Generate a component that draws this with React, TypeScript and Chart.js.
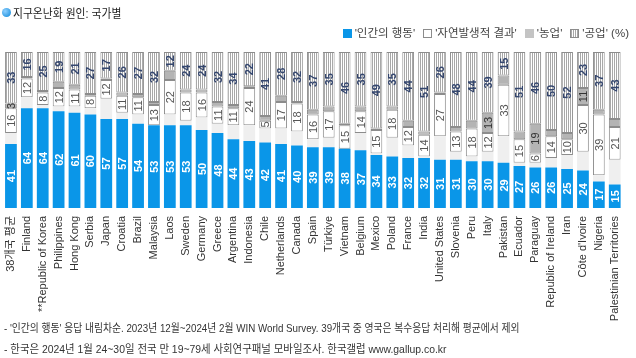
import React, { useEffect, useRef } from 'react';
import { Chart, registerables } from 'chart.js';
Chart.register(...registerables);

const categories = ['38개국 평균', 'Finland', '**Republic of Korea', 'Philippines', 'Hong Kong', 'Serbia', 'Japan', 'Croatia', 'Brazil', 'Malaysia', 'Laos', 'Sweden', 'Germany', 'Greece', 'Argentina', 'Indonesia', 'Chile', 'Netherlands', 'Canada', 'Spain', 'Türkiye', 'Vietnam', 'Belgium', 'Mexico', 'Poland', 'France', 'India', 'United States', 'Slovenia', 'Peru', 'Italy', 'Pakistan', 'Ecuador', 'Paraguay', 'Republic of Ireland', 'Iran', "Côte d'Ivoire", 'Nigeria', 'Palestinian Territories'];
const human = [41, 64, 64, 62, 61, 60, 57, 57, 54, 53, 53, 53, 50, 48, 44, 43, 42, 41, 40, 39, 39, 38, 37, 34, 33, 32, 32, 31, 31, 30, 30, 29, 27, 26, 26, 25, 24, 17, 15];
const natural = [16, 12, 8, 12, 11, 8, 12, 11, 11, 13, 22, 18, 16, 11, 11, 24, 5, 17, 18, 16, 17, 15, 14, 15, 18, 12, 14, 27, 13, 18, 12, 33, 15, 6, 14, 10, 30, 39, 21];
const agriculture = [3, 1, 1, 4, 3, 1, 1, 2, 2, 2, 6, 2, 2, 3, 2, 1, 3, 4, 1, 3, 3, 1, 3, 1, 2, 4, 2, 1, 3, 5, 13, 6, 5, 19, 4, 4, 11, 3, 5];
const industry = [33, 16, 25, 19, 21, 27, 17, 26, 27, 32, 12, 24, 24, 32, 34, 22, 41, 28, 32, 37, 35, 46, 35, 49, 35, 44, 51, 26, 48, 44, 39, 15, 51, 46, 50, 52, 23, 37, 43];
const seriesNames = ["'인간의 행동'", "'자연발생적 결과'", "'농업'", "'공업'"];
const titleText = '지구온난화 원인: 국가별';
const footnotes = [
  "- '인간의 행동' 응답 내림차순. 2023년 12월~2024년 2월 WIN World Survey. 39개국 중 영국은 복수응답 처리해 평균에서 제외",
  '- 한국은 2024년 1월 24~30일 전국 만 19~79세 사회연구패널 모바일조사. 한국갤럽 www.gallup.co.kr',
];

const FONT = "'Liberation Sans', 'Noto Sans CJK KR', sans-serif";
const BLUE = '#0a96e8';
const BORDER = '#8c8c8c';

function makeHatch(): CanvasPattern | string {
  const c = document.createElement('canvas');
  c.width = 2;
  c.height = 2;
  const g = c.getContext('2d');
  if (!g) return '#ccc';
  g.fillStyle = '#ffffff';
  g.fillRect(0, 0, 2, 2);
  g.fillStyle = '#a8a8a8';
  g.fillRect(0, 0, 1, 2);
  return g.createPattern(c, 'repeat') || '#ccc';
}

const segLabels = {
  id: 'segLabels',
  afterDatasetsDraw(chart: any) {
    const ctx = chart.ctx;
    chart.data.datasets.forEach((ds: any, di: number) => {
      const cfg = ds.labelStyle;
      if (!cfg) return;
      const meta = chart.getDatasetMeta(di);
      meta.data.forEach((el: any, i: number) => {
        const v = ds.data[i];
        if (!cfg.show(v, i)) return;
        const p = el.getProps(['x', 'y', 'base'], true);
        ctx.save();
        ctx.translate(p.x, (p.y + p.base) / 2);
        ctx.rotate(-Math.PI / 2);
        ctx.font = cfg.font;
        ctx.fillStyle = cfg.color;
        ctx.textAlign = 'center';
        ctx.textBaseline = 'middle';
        ctx.fillText(String(v), 0, 1);
        ctx.restore();
      });
    });
  },
};

export default function App() {
  const ref = useRef<HTMLCanvasElement | null>(null);
  useEffect(() => {
    if (!ref.current) return;
    const hatch = makeHatch();
    const gap = categories.map((_, i) => Math.max(0, 100 - human[i] - natural[i] - agriculture[i] - industry[i]));
    const common = { barPercentage: 0.74, categoryPercentage: 1 };
    const chart = new Chart(ref.current, {
      type: 'bar',
      data: {
        labels: categories,
        datasets: [
          {
            label: seriesNames[0], data: human, backgroundColor: BLUE, borderWidth: 0, ...common,
            labelStyle: { font: `bold 11px ${FONT}`, color: '#ffffff', show: () => true },
          } as any,
          { label: 'gap', data: gap, backgroundColor: '#efefef', borderWidth: 0, ...common },
          {
            label: seriesNames[1], data: natural, backgroundColor: '#ffffff', borderColor: BORDER, borderWidth: 1, borderSkipped: false, ...common,
            labelStyle: { font: `11px ${FONT}`, color: '#555555', show: () => true },
          } as any,
          {
            label: seriesNames[2], data: agriculture, backgroundColor: '#b4b4b4', borderColor: BORDER, borderWidth: 1, borderSkipped: false, ...common,
            labelStyle: { font: `11px ${FONT}`, color: '#333333', show: (v: number, i: number) => v >= 10 || i === 0 },
          } as any,
          {
            label: seriesNames[3], data: industry, backgroundColor: hatch, borderColor: BORDER, borderWidth: 1, borderSkipped: false, ...common,
            labelStyle: { font: `bold 11px ${FONT}`, color: '#34466e', show: () => true },
          } as any,
        ],
      },
      options: {
        animation: false,
        responsive: false,
        layout: { padding: { top: 52, left: 3, right: 5, bottom: 0 } },
        scales: {
          x: {
            stacked: true,
            grid: { display: false, drawTicks: false },
            border: { display: false },
            ticks: { autoSkip: false, minRotation: 90, maxRotation: 90, padding: 8, color: '#333', font: { size: 11, family: FONT } },
            afterFit: (s: any) => { s.height = 150; },
          },
          y: { stacked: true, display: false, min: 0, max: 100 },
        },
        plugins: { legend: { display: false }, tooltip: { enabled: false } },
      },
      plugins: [segLabels],
    });
    return () => chart.destroy();
  }, []);

  const sw = (style: React.CSSProperties) => (
    <span style={{ display: 'inline-block', width: 9, height: 9, marginRight: 3, verticalAlign: -0.5, boxSizing: 'border-box', ...style }} />
  );

  return (
    <div style={{ position: 'fixed', left: 0, top: 0, width: 636, height: 358, background: '#fff', fontFamily: FONT, overflow: 'hidden' }}>
      <canvas ref={ref} width={636} height={358} style={{ position: 'absolute', left: 0, top: 0 }} />
      <div style={{ position: 'absolute', left: 2, top: 4, fontSize: 12, color: '#222', whiteSpace: 'nowrap', display: 'flex', alignItems: 'center' }}>
        <span style={{ display: 'inline-block', width: 9, height: 9, borderRadius: '50%', background: 'radial-gradient(circle at 35% 35%, #8fd0ff, #0a86d8)', marginRight: 2 }} />
        <span style={{ display: 'inline-block', transform: 'scaleX(0.9)', transformOrigin: 'left center' }}>{titleText}</span>
      </div>
      <div style={{ position: 'absolute', right: 7, top: 24, fontSize: 11.5, color: '#444', whiteSpace: 'nowrap' }}>
        {sw({ background: BLUE })}{seriesNames[0]}
        <span style={{ marginLeft: 8 }} />{sw({ background: '#fff', border: `1px solid ${BORDER}` })}{seriesNames[1]}
        <span style={{ marginLeft: 8 }} />{sw({ background: '#c4c4c4' })}{seriesNames[2]}
        <span style={{ marginLeft: 8 }} />{sw({ background: 'repeating-linear-gradient(90deg, #a8a8a8 0 1px, #fff 1px 2px)', border: `1px solid ${BORDER}` })}{seriesNames[3]} (%)
      </div>
      <div style={{ position: 'absolute', left: 4, top: 318, fontSize: 11, color: '#333', whiteSpace: 'nowrap', lineHeight: '21px' }}>
        <div style={{ transform: 'scaleX(0.89)', transformOrigin: 'left center' }}>{footnotes[0]}</div>
        <div style={{ transform: 'scaleX(0.945)', transformOrigin: 'left center' }}>{footnotes[1]}</div>
      </div>
    </div>
  );
}
